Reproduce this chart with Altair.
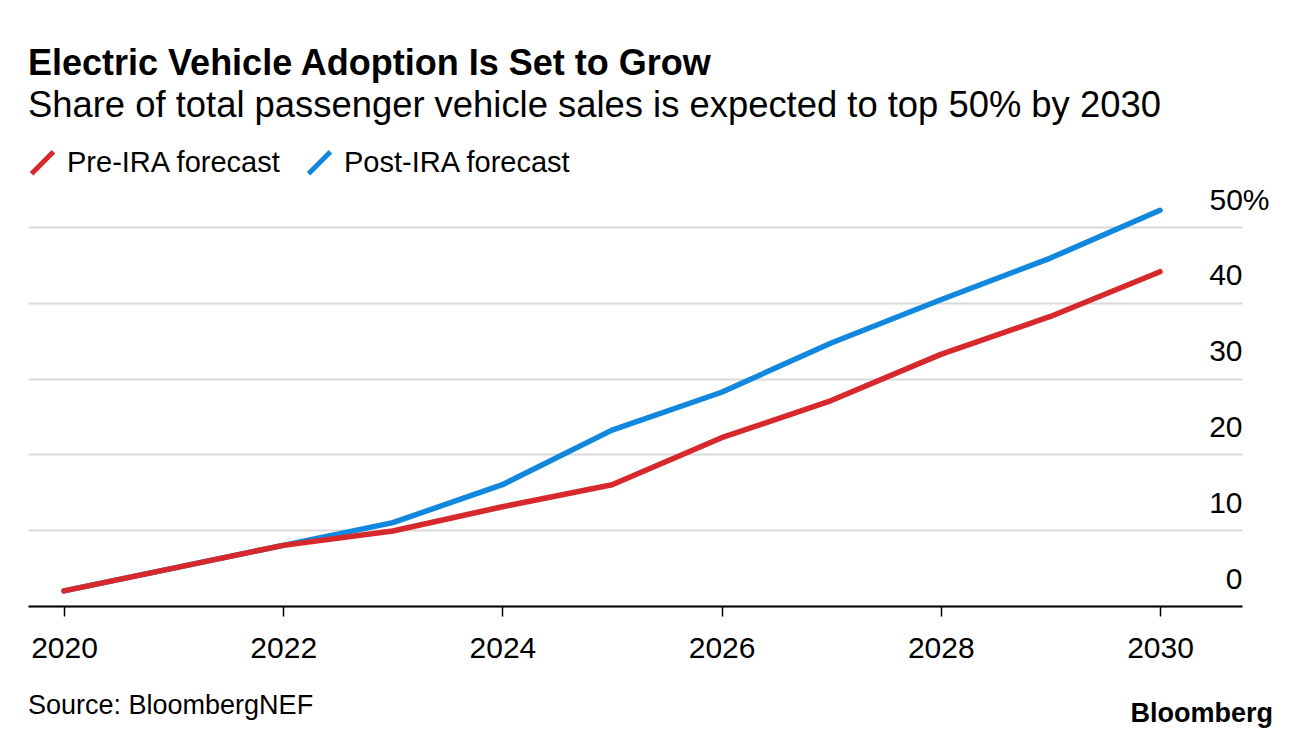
import altair as alt
import pandas as pd

years = list(range(2020, 2031))
pre_ira = [2.0, 5.0, 8.0, 9.9, 13.1, 16.0, 22.2, 27.1, 33.2, 38.2, 44.1]
post_ira = [2.0, 5.0, 8.0, 11.0, 16.0, 23.2, 28.2, 34.7, 40.4, 45.9, 52.2]
series_names = ["Pre-IRA forecast", "Post-IRA forecast"]
series_colors = ["#d7282b", "#1188dd"]
x_ticks = [2020, 2022, 2024, 2026, 2028, 2030]
y_ticks = [0, 10, 20, 30, 40, 50]
title_text = "Electric Vehicle Adoption Is Set to Grow"
subtitle_text = "Share of total passenger vehicle sales is expected to top 50% by 2030"
source_text = ["Source: BloombergNEF"]
brand_text = ["Bloomberg"]

df = pd.DataFrame({
    "year": years + years,
    "share": pre_ira + post_ira,
    "series": [series_names[0]] * len(years) + [series_names[1]] * len(years),
})

FONT = "Liberation Sans"
W, H = 1214, 379

color = alt.Color(
    "series:N",
    scale=alt.Scale(domain=series_names, range=series_colors),
    legend=alt.Legend(
        title=None, orient="none", legendX=0, legendY=-79, direction="horizontal",
        symbolType="M-1,1L1,-1", symbolSize=480, symbolStrokeWidth=5,
        labelFontSize=29, labelFont=FONT, labelColor="black", labelLimit=500,
        columnPadding=16, labelOffset=10,
    ),
)

x = alt.X(
    "year:Q",
    scale=alt.Scale(domain=[2019.6715, 2030.748], nice=False, zero=False),
    axis=alt.Axis(
        values=x_ticks, format="d", title=None, grid=False,
        domainColor="black", domainWidth=2, tickColor="black", tickSize=10,
        tickWidth=1.5, labelFontSize=30, labelFont=FONT, labelColor="black",
        labelPadding=17, labelFlush=False,
    ),
)
y = alt.Y(
    "share:Q",
    scale=alt.Scale(domain=[0, 50], nice=False),
    axis=alt.Axis(
        orient="right", values=y_ticks, title=None, domain=False, ticks=False,
        grid=True, gridColor="#d9d9d9", gridWidth=2,
        labelAlign="right", labelBaseline="alphabetic", labelOffset=-18,
        labelPadding={"condition": {"test": "datum.value == 50", "value": 27}, "value": 0},
        labelExpr="datum.value == 50 ? '50%' : datum.label",
        labelFontSize=30, labelFont=FONT, labelColor="black",
    ),
)

base = alt.Chart(df).mark_line(strokeWidth=5.5, strokeCap="round", strokeJoin="round").encode(
    x=x, y=y, color=color
)
blue = base.transform_filter(alt.datum.series == series_names[1])
red = base.transform_filter(alt.datum.series == series_names[0])

source = alt.Chart(pd.DataFrame({"t": source_text})).mark_text(
    align="left", baseline="alphabetic", fontSize=27, font=FONT, color="black"
).encode(x=alt.value(0), y=alt.value(487), text="t:N")

brand = alt.Chart(pd.DataFrame({"t": brand_text})).mark_text(
    align="right", baseline="alphabetic", fontSize=27, font=FONT, fontWeight="bold", color="black"
).encode(x=alt.value(1245), y=alt.value(495), text="t:N")

chart = alt.layer(blue, red, source, brand).properties(
    width=W, height=H,
    padding={"left": 20, "top": 37, "right": 10, "bottom": 4},
    title=alt.TitleParams(
        text=title_text, subtitle=subtitle_text, anchor="start",
        font=FONT, fontSize=36, fontWeight="bold", color="black",
        subtitleFont=FONT, subtitleFontSize=36.4, subtitleColor="black",
        subtitlePadding=5, offset=23,
    ),
    background="white",
).configure_view(stroke=None)

chart.save("out.html", embed_options={"renderer": "svg", "actions": False})
